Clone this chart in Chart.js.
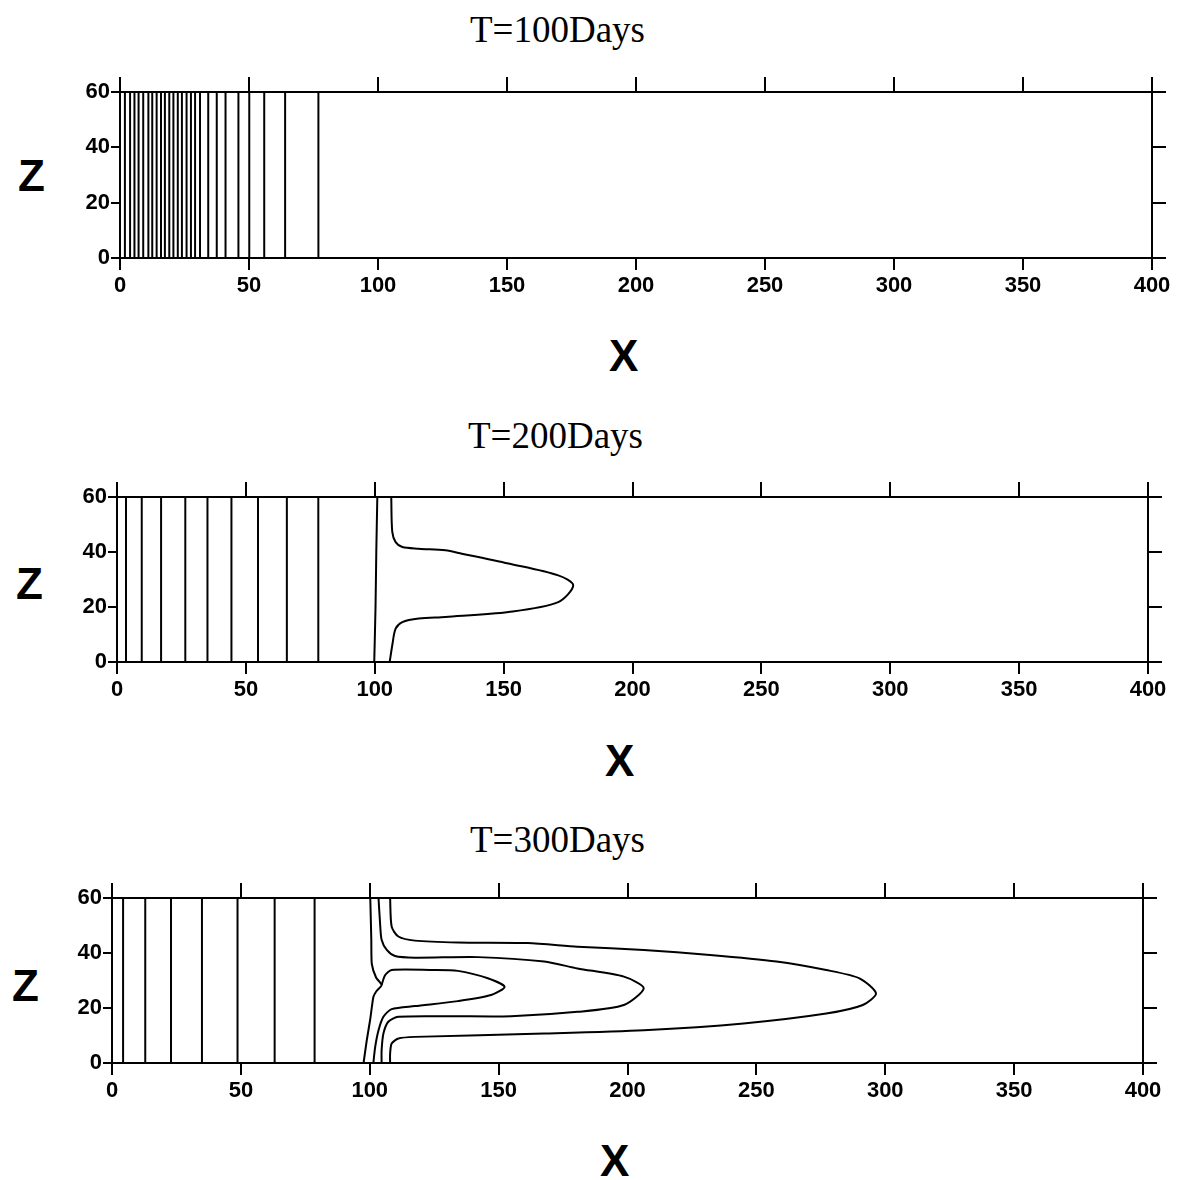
<!DOCTYPE html>
<html>
<head>
<meta charset="utf-8">
<script src="https://cdn.jsdelivr.net/npm/chart.js@4.4.1/dist/chart.umd.min.js"></script>
<style>
  html, body { margin: 0; padding: 0; background: #fff; }
  body { width: 1181px; height: 1180px; position: relative; overflow: hidden; }
  canvas { position: absolute; left: 0; }
  .ttl { position: absolute; font-family: "Liberation Serif", "Times New Roman", serif; font-size: 37px; line-height: 37px; color: #000; white-space: nowrap; }
  .ax { position: absolute; font-family: "Liberation Sans", Arial, sans-serif; font-weight: bold; font-size: 44px; line-height: 44px; color: #000; }
</style>
</head>
<body>
<div class="ttl" style="left:470px;top:11px;">T=100Days</div>
<div class="ax" style="left:18px;top:154px;">Z</div>
<div class="ax" style="left:609px;top:334px;">X</div>
<canvas id="c1" width="1181" height="320" style="top:0px"></canvas>

<div class="ttl" style="left:468px;top:417px;">T=200Days</div>
<div class="ax" style="left:16px;top:562px;">Z</div>
<div class="ax" style="left:605px;top:739px;">X</div>
<canvas id="c2" width="1181" height="320" style="top:400px"></canvas>

<div class="ttl" style="left:470px;top:821px;">T=300Days</div>
<div class="ax" style="left:12px;top:964px;">Z</div>
<div class="ax" style="left:600px;top:1139px;">X</div>
<canvas id="c3" width="1181" height="320" style="top:800px"></canvas>

<script>
// ---- Data ----
const xTicks = [0, 50, 100, 150, 200, 250, 300, 350, 400];
const zTicks = [0, 20, 40, 60];

// T=100 days: vertical contour lines (x positions)
const lines100 = [1.9, 3.9, 5.6, 7.2, 9.0, 11.0, 12.5, 14.2, 15.9, 17.4, 19.1, 20.7, 22.4, 24.0, 25.8, 27.5, 29.1, 31.0, 34.2, 37.5, 40.9, 45.9, 50.1, 55.9, 64.0, 76.9];

// T=200 days
const lines200 = [3.5, 9.6, 17.1, 26.5, 35.1, 44.4, 54.7, 65.9, 78.1];
const front200X = [101, 100.6, 100.3, 99.8];
const front200Z = [60, 40, 20, 0];
const lobe200X = [106.4, 106.8, 108.1, 110.7, 117.1, 127.4, 133.8, 151.9, 171.2, 177, 171.2, 151.9, 127.4, 117.1, 110.7, 108.1, 106.8, 105.8];
const lobe200Z = [60, 47.3, 43.6, 41.8, 41.2, 40.6, 39.4, 35.8, 31.5, 27.9, 21.8, 18.2, 16.4, 15.8, 14.5, 12.1, 6.1, 0];

// T=300 days
const lines300 = [4.3, 12.9, 22.9, 34.9, 48.7, 63.1, 78.6];
const cusp300X = [100.2, 100.6, 100.8, 102.5, 104.6, 102.5, 101.4, 100.2, 98.8, 97.6];
const cusp300Z = [60, 45, 36, 31, 28.4, 26, 24, 16, 8, 0];
const inner300X = [104.6, 106, 108.5, 123.9, 134.2, 145.8, 152.3, 147.1, 134.2, 117.5, 108.5, 105.3, 103.4, 102.1, 101.4];
const inner300Z = [28.4, 32, 33.8, 33.8, 33.5, 30.8, 27.7, 24.7, 22.5, 20.7, 19.6, 16.8, 11.9, 5.8, 0];
const middle300X = [103.4, 104, 104.6, 106.6, 109.8, 117.5, 142, 167.7, 180.6, 198.6, 206.3, 198.6, 180.6, 154.8, 130.4, 111.1, 107.2, 105.3, 104.6, 104.6];
const middle300Z = [60, 50.9, 44.8, 41.1, 38.9, 38.3, 38.5, 36.9, 34.4, 31.4, 27.2, 21.1, 18.6, 17.0, 17.0, 16.8, 15, 10.7, 4.6, 0];
const outer300X = [107.9, 108.5, 111.1, 117.5, 134.2, 161.3, 180.6, 206.3, 232, 257.8, 277.1, 290, 296.4, 291.3, 277.1, 245, 206.3, 167.7, 117.5, 111.1, 108.5, 107.9, 107.9];
const outer300Z = [60, 49.6, 46, 44.5, 43.8, 43.6, 42.3, 41.1, 39.3, 36.9, 33.8, 30.8, 25.3, 21.1, 18, 14.4, 11.9, 10.7, 9.5, 8.9, 7.1, 3.4, 0];

// ---- Helpers ----
function vertical(xs) {
  return xs.map(v => ({ data: [{ x: v, y: zTicks[0] }, { x: v, y: zTicks[zTicks.length - 1] }], tension: 0 }));
}
function curve(xs, zs, tension) {
  return { data: xs.map((v, i) => ({ x: v, y: zs[i] })), tension: tension };
}
const tickFont = { family: "'Liberation Sans', Arial, sans-serif", size: 22, weight: 'bold' };

function makePanel(id, geo, sets) {
  const H = 320;
  const datasets = sets.map(s => Object.assign({
    showLine: true, pointRadius: 0, borderColor: '#000', borderWidth: 2, fill: false
  }, s));
  const tickCb = function (value) { return xTicks.includes(value) ? String(value) : ''; };
  new Chart(document.getElementById(id), {
    type: 'scatter',
    data: { datasets },
    options: {
      responsive: false, animation: false, devicePixelRatio: 1,
      layout: { padding: 0 },
      plugins: { legend: { display: false }, tooltip: { enabled: false }, title: { display: false } },
      scales: {
        x: {
          type: 'linear', position: 'bottom', min: 0, max: 400,
          afterBuildTicks: s => { s.ticks = xTicks.map(v => ({ value: v })); },
          afterFit: s => { s.height = H - geo.bottom; },
          ticks: { color: '#000', font: tickFont, padding: 3, maxRotation: 0, autoSkip: false, callback: tickCb },
          grid: { drawOnChartArea: false, drawTicks: true, tickLength: 12, color: '#000', lineWidth: 2 },
          border: { display: true, color: '#000', width: 2 }
        },
        x2: {
          type: 'linear', position: 'top', min: 0, max: 400,
          afterBuildTicks: s => { s.ticks = xTicks.map(v => ({ value: v })); },
          afterFit: s => { s.height = geo.top; },
          ticks: { display: false },
          grid: { drawOnChartArea: false, drawTicks: true, tickLength: 15, color: '#000', lineWidth: 2 },
          border: { display: true, color: '#000', width: 2 }
        },
        y: {
          type: 'linear', position: 'left', min: 0, max: 60,
          afterBuildTicks: s => { s.ticks = zTicks.map(v => ({ value: v })); },
          afterFit: s => { s.width = geo.left; },
          ticks: { color: '#000', font: tickFont, padding: 1, callback: v => String(v) },
          grid: { drawOnChartArea: false, drawTicks: true, tickLength: 9, color: '#000', lineWidth: 2 },
          border: { display: true, color: '#000', width: 2 }
        },
        y2: {
          type: 'linear', position: 'right', min: 0, max: 60,
          afterBuildTicks: s => { s.ticks = zTicks.map(v => ({ value: v })); },
          afterFit: s => { s.width = 1181 - geo.right; },
          ticks: { display: false },
          grid: { drawOnChartArea: false, drawTicks: true, tickLength: 14, color: '#000', lineWidth: 2 },
          border: { display: true, color: '#000', width: 2 }
        }
      }
    }
  });
}

makePanel('c1', { left: 120, right: 1152, top: 92, bottom: 258 }, vertical(lines100));

makePanel('c2', { left: 117, right: 1148, top: 97, bottom: 262 },
  vertical(lines200).concat([curve(front200X, front200Z, 0.3), curve(lobe200X, lobe200Z, 0.3)]));

makePanel('c3', { left: 112, right: 1143, top: 98, bottom: 263 },
  vertical(lines300).concat([
    curve(cusp300X, cusp300Z, 0.2),
    curve(inner300X, inner300Z, 0.25),
    curve(middle300X, middle300Z, 0.25),
    curve(outer300X, outer300Z, 0.25)
  ]));
</script>
</body>
</html>
